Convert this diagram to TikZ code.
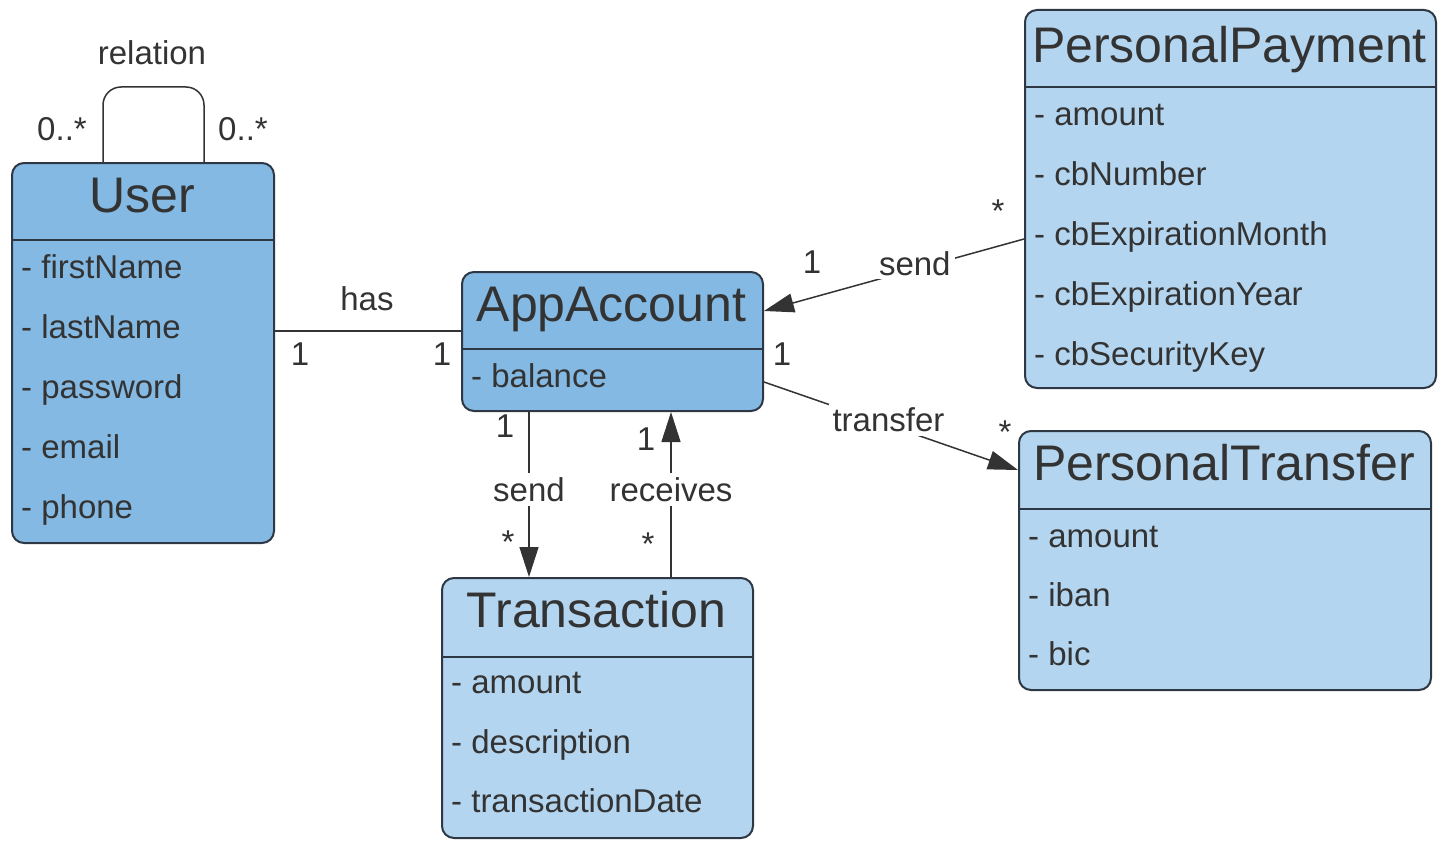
\documentclass[tikz,border=0pt]{standalone}
\usepackage{fontspec}
\setmainfont{Liberation Sans}
\usetikzlibrary{arrows.meta,calc}
\definecolor{dkblue}{HTML}{83B9E3}
\definecolor{ltblue}{HTML}{B3D5EF}
\definecolor{edgec}{HTML}{2E3845}
\definecolor{linec}{HTML}{333333}
\definecolor{ink}{HTML}{333333}
\begin{document}
\begin{tikzpicture}[x=1pt,y=-1pt,
  classbox/.style={draw=edgec, line width=2pt, rounded corners=12pt, inner sep=0pt, anchor=north west},
  divider/.style={draw=edgec, line width=1.6pt},
  titletext/.style={font=\fontsize{50}{60}\selectfont, text=ink, anchor=base, inner sep=0pt},
  attr/.style={font=\fontsize{33}{40}\selectfont, text=ink, anchor=base west, inner sep=0pt},
  mult/.style={font=\fontsize{33}{40}\selectfont, text=ink, anchor=base, inner sep=0pt},
  lbl/.style={font=\fontsize{33}{40}\selectfont, text=ink, fill=white, inner sep=4pt},
  conn/.style={draw=linec, line width=1.5pt},
  arr/.style={conn, -{Triangle[length=30pt,width=19pt]}}]
\useasboundingbox (0,0) rectangle (1441,843);

% classes
\node[classbox, fill=dkblue, minimum width=262pt, minimum height=380pt] (user) at (11,162) {};
\node[classbox, fill=dkblue, minimum width=301pt, minimum height=139pt] (acc) at (461,271) {};
\node[classbox, fill=ltblue, minimum width=311pt, minimum height=260pt] (trans) at (441,577) {};
\node[classbox, fill=ltblue, minimum width=411pt, minimum height=378pt] (pp) at (1024,9) {};
\node[classbox, fill=ltblue, minimum width=412pt, minimum height=259pt] (pt) at (1018,430) {};

% dividers
\coordinate (uDiv) at (0,240);
\coordinate (aDiv) at (0,349);
\coordinate (tDiv) at (0,657);
\coordinate (ppDiv) at (0,87);
\coordinate (ptDiv) at (0,509);
\draw[divider] (user.west |- uDiv) -- (user.east |- uDiv);
\draw[divider] (acc.west |- aDiv) -- (acc.east |- aDiv);
\draw[divider] (trans.west |- tDiv) -- (trans.east |- tDiv);
\draw[divider] (pp.west |- ppDiv) -- (pp.east |- ppDiv);
\draw[divider] (pt.west |- ptDiv) -- (pt.east |- ptDiv);

% titles
\node[titletext] (userT) at (142,212) {User};
\node[titletext] (accT) at (611.5,321) {AppAccount};
\node[titletext] (transT) at (596.5,627) {Transaction};
\node[titletext] (ppT) at (1229.5,63) {PersonalPayment};
\node[titletext] (ptT) at (1224,480) {PersonalTransfer};

% attributes
\node[attr] (u1) at (21,278) {- firstName};
\node[attr] (u2) at (21,338) {- lastName};
\node[attr] (u3) at (21,398) {- password};
\node[attr] (u4) at (21,458) {- email};
\node[attr] (u5) at (21,518) {- phone};
\node[attr] (a1) at (471,387) {- balance};
\node[attr] (t1) at (451,693) {- amount};
\node[attr] (t2) at (451,753) {- description};
\node[attr] (t3) at (451,812) {- transactionDate};
\node[attr] (p1) at (1034,125) {- amount};
\node[attr] (p2) at (1034,185) {- cbNumber};
\node[attr] (p3) at (1034,245) {- cbExpirationMonth};
\node[attr] (p4) at (1034,305) {- cbExpirationYear};
\node[attr] (p5) at (1034,365) {- cbSecurityKey};
\node[attr] (r1) at (1028,547) {- amount};
\node[attr] (r2) at (1028,606) {- iban};
\node[attr] (r3) at (1028,665) {- bic};

% self relation
\coordinate (loopTop) at (0,87);
\draw[conn, rounded corners=18pt] ([xshift=-40pt]user.north) |- ([xshift=10pt]user.north |- loopTop) -| ([xshift=61pt]user.north);
\node[mult] (relL) at (152,65) {relation};
\node[mult] (m1) at (62,140) {0..*};
\node[mult] (m2) at (243,140) {0..*};

% has
\coordinate (hasY) at (0,331);
\draw[conn] (user.east |- hasY) -- (acc.west |- hasY);
\node[mult] (hasL) at (367,310) {has};
\node[mult] (m3) at (300,365) {1};
\node[mult] (m4) at (442,365) {1};

% send (payment)
\draw[arr] ([yshift=-40pt]pp.west) -- node[lbl, pos=0.42, yshift=6pt] (sendP) {send} ([yshift=30.5pt]acc.east);
\node[mult] (m5) at (812,273) {1};
\node[mult] (m6) at (998,222) {*};

% transfer
\draw[arr] ([yshift=-40.5pt]acc.east) -- node[lbl, pos=0.49, yshift=5pt] (transL) {transfer} ([yshift=90.5pt]pt.west);
\node[mult] (m7) at (782,365) {1};
\node[mult] (m8) at (1005,443) {*};

% send (transaction)
\coordinate (sx) at (529,0);
\draw[arr] (acc.south -| sx) -- node[lbl, pos=0.47] (sendT) {send} (trans.north -| sx);
\node[mult] (m9) at (505,437) {1};
\node[mult] (m10) at (508,553) {*};

% receives
\coordinate (rx) at (671,0);
\draw[arr] (trans.north -| rx) -- node[lbl, pos=0.53] (recL) {receives} (acc.south -| rx);
\node[mult] (m11) at (646,450) {1};
\node[mult] (m12) at (648,555) {*};
\end{tikzpicture}
\end{document}
